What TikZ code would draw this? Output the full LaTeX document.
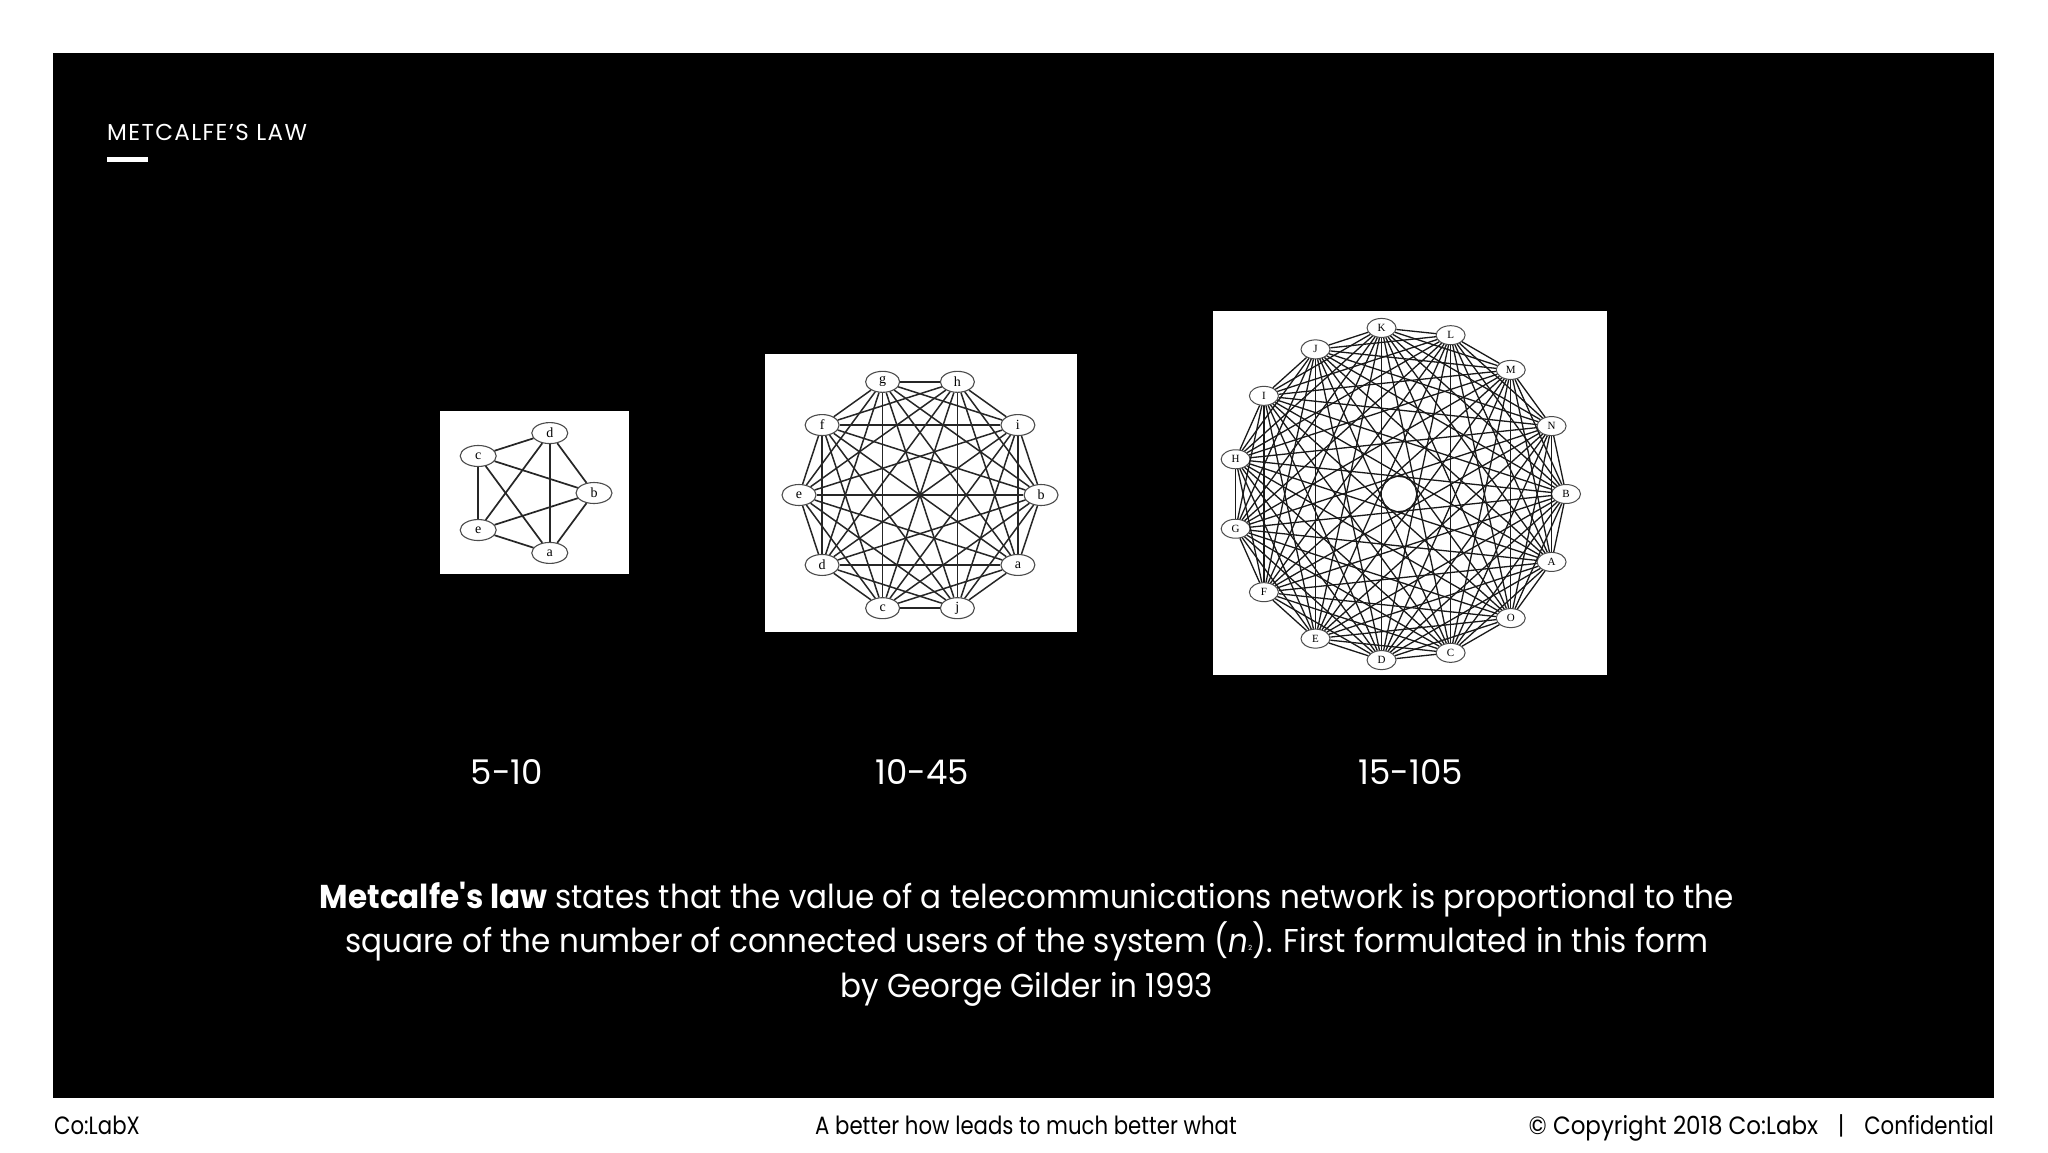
\documentclass[tikz,border=0pt]{standalone}
\usepackage{fontspec}
\setmainfont{Poppins}
\newfontfamily\futura[FakeStretch=0.85]{Poppins}
\newfontfamily\futurapara[FakeStretch=0.94]{Poppins}
\newfontfamily\futuraright[FakeStretch=0.92]{Poppins}
\newfontfamily\titlefont[LetterSpace=6]{Poppins}
\newfontfamily\gserif{Liberation Serif}
\usetikzlibrary{shapes.geometric}
\begin{document}
\begin{tikzpicture}[x=1pt,y=-1pt,
  txt/.style={inner sep=0, anchor=base},
  lbl/.style={txt, text=white, font=\fontsize{34}{40}\selectfont},
  para/.style={txt, text=white, font=\futurapara\fontsize{33}{40}\selectfont},
  foot/.style={txt, text=black, font=\futura\fontsize{25}{30}\selectfont},
  panel/.style={fill=white, draw=none},
  vtxa/.style={ellipse, draw=black!70, fill=white, line width=1.1pt, inner sep=0,
    minimum width=36pt, minimum height=21pt, font=\gserif\fontsize{14}{14}\selectfont},
  vtxb/.style={ellipse, draw=black!70, fill=white, line width=1.1pt, inner sep=0,
    minimum width=34pt, minimum height=21pt, font=\gserif\fontsize{14}{14}\selectfont},
  vtxc/.style={ellipse, draw=black!70, fill=white, line width=1pt, inner sep=0,
    minimum width=29pt, minimum height=19pt, font=\gserif\fontsize{11}{11}\selectfont},
  edgea/.style={draw=black!85, line width=1.7pt},
  edgeb/.style={draw=black!85, line width=1.5pt},
  edgec/.style={draw=black!90, line width=1.3pt}]
\useasboundingbox (0,0) rectangle (2048,1152);
\fill[white] (0,0) rectangle (2048,1152);
\fill[black] (53,53) rectangle (1994,1098);
% title
\node[txt, anchor=base west, text=white, font=\titlefont\fontsize{23}{28}\selectfont] (title) at (107,140) {METCALFE’S LAW};
\fill[white] (107,157) rectangle (148,162);
% panels
\fill[panel] (440,411) rectangle (629,574);
\fill[panel] (765,354) rectangle (1077,632);
\fill[panel] (1213,311) rectangle (1607,675);
% graph 1 : K5
\foreach \l [count=\k from 0] in {b,d,c,e,a}
  \node[vtxa] (s\k) at ({530+64*cos(72*\k)},{493-63*sin(72*\k)}) {\l};
\foreach \i in {0,...,3}{\pgfmathtruncatemacro\s{\i+1}
  \foreach \j in {\s,...,4}{\draw[edgea] (s\i) -- (s\j);}}
% graph 2 : K10
\foreach \l [count=\k from 0] in {b,i,h,g,f,e,d,c,j,a}
  \node[vtxb] (m\k) at ({920+121*cos(36*\k)},{495-119*sin(36*\k)}) {\l};
\foreach \i in {0,...,8}{\pgfmathtruncatemacro\s{\i+1}
  \foreach \j in {\s,...,9}{\draw[edgeb] (m\i) -- (m\j);}}
% graph 3 : K15
\foreach \l [count=\k from 0] in {B,N,M,L,K,J,I,H,G,F,E,D,C,O,A}
  \node[vtxc] (l\k) at ({1399+167*cos(24*\k)},{494-167*sin(24*\k)}) {\l};
\foreach \i in {0,...,13}{\pgfmathtruncatemacro\s{\i+1}
  \foreach \j in {\s,...,14}{\draw[edgec] (l\i) -- (l\j);}}
% counts
\node[lbl] (c1) at (507,784) {5-10};
\node[lbl] (c2) at (922,784) {10-45};
\node[lbl] (c3) at (1411,784) {15-105};
% paragraph
\node[para] (p1) at (1027,908) {\textbf{Metcalfe's law} states that the value of a telecommunications network is proportional to the};
\node[para] (p2) at (1027,952) {square of the number of connected users of the system (\textit{n}\raisebox{2pt}{\fontsize{7}{7}\selectfont 2}). First formulated in this form};
\node[para] (p3) at (1027,997) {by George Gilder in 1993};
% footer
\node[foot, anchor=base west] (f1) at (54,1134) {Co:LabX};
\node[foot] (f2) at (1026,1134) {A better how leads to much better what};
\node[foot, anchor=base east] (f3) at (1994,1134) {{\futuraright © Copyright 2018 Co:Labx}\hspace{20pt}|\hspace{20pt}Confidential};
\end{tikzpicture}
\end{document}
